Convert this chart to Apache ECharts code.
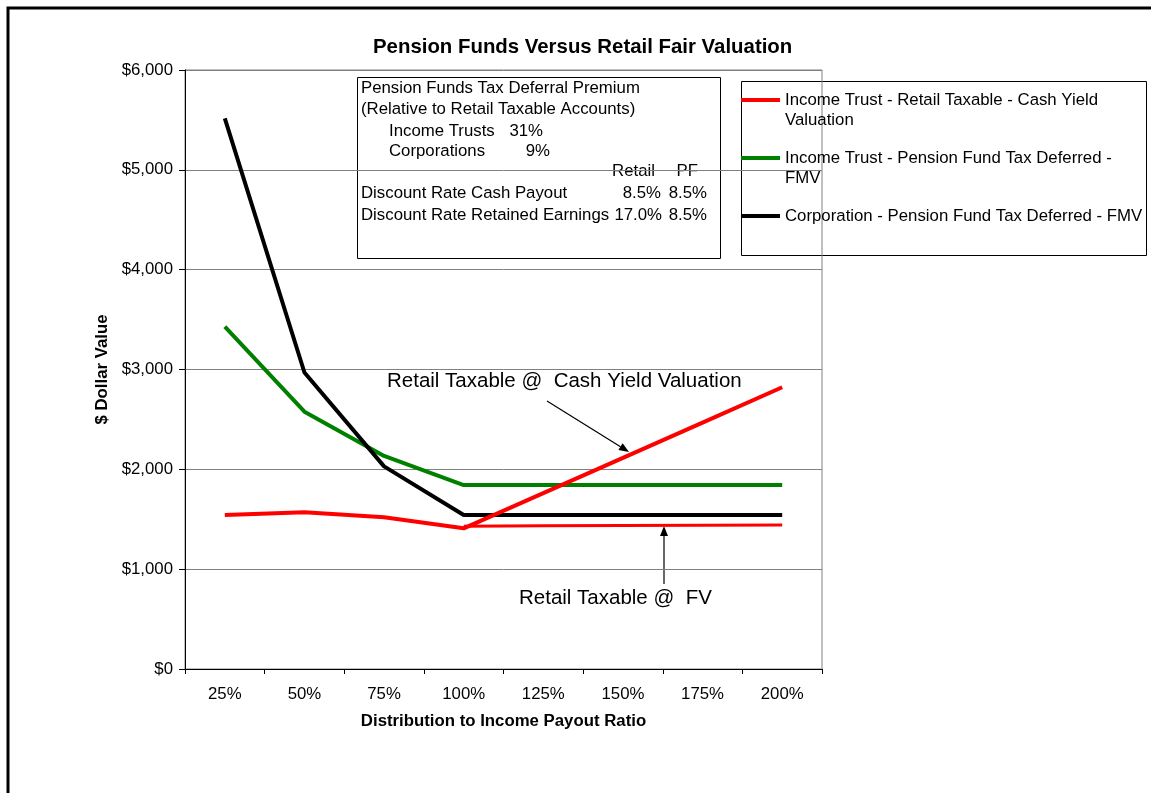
<!DOCTYPE html>
<html>
<head>
<meta charset="utf-8">
<title>Pension Funds Versus Retail Fair Valuation</title>
<script src="https://cdn.jsdelivr.net/npm/echarts@6/dist/echarts.min.js"></script>
<style>
  html, body { margin: 0; padding: 0; background: #fff; }
  #chart { width: 1151px; height: 793px; }
</style>
</head>
<body>
<div id="chart"></div>
<script>
// payout ratio categories on the x axis
var payoutRatios = ['25%', '50%', '75%', '100%', '125%', '150%', '175%', '200%'];

// dollar values
var trustRetailCash = [1543, 1570, 1520, 1409, 1762, 2115, 2468, 2822];
var trustRetailFV = [null, null, null, 1430, 1436, 1438, 1440, 1442];
var trustPensionFMV = [3430, 2578, 2134, 1843, 1843, 1843, 1843, 1843];
var corpPensionFMV = [5515, 2970, 2030, 1543, 1543, 1543, 1543, 1543];

var seriesNames = [
  'Income Trust - Retail Taxable - Cash Yield Valuation',
  'Income Trust - Pension Fund Tax Deferred - FMV',
  'Corporation - Pension Fund Tax Deferred - FMV'
];
// legend text wrapped like the original (leading blank line keeps the icon on line one)
var legendLines = {};
legendLines[seriesNames[0]] = ['', 'Income Trust - Retail Taxable - Cash Yield', 'Valuation'];
legendLines[seriesNames[1]] = ['', 'Income Trust - Pension Fund Tax Deferred -', 'FMV'];
legendLines[seriesNames[2]] = ['', 'Corporation - Pension Fund Tax Deferred - FMV', ''];

// text in the note box: [text, x, y, align]
var noteLines = [
  ['Pension Funds Tax Deferral Premium', 361, 88, 'left'],
  ['(Relative to Retail Taxable Accounts)', 361, 109.5, 'left'],
  ['Income Trusts', 389, 131, 'left'],
  ['31%', 543, 131, 'right'],
  ['Corporations', 389, 151, 'left'],
  ['9%', 550, 151, 'right'],
  ['Retail', 655, 171, 'right'],
  ['PF', 698, 171, 'right'],
  ['Discount Rate Cash Payout', 361, 193, 'left'],
  ['8.5%', 661, 193, 'right'],
  ['8.5%', 707, 193, 'right'],
  ['Discount Rate Retained Earnings', 361, 215, 'left'],
  ['17.0%', 662, 215, 'right'],
  ['8.5%', 707, 215, 'right']
];

(function () {
  var font = '"Liberation Sans", Arial, Helvetica, sans-serif';
  var fs = 16.8;

  function money(v) {
    return '$' + v.toString().replace(/\B(?=(\d{3})+(?!\d))/g, ',');
  }

  function textEl(t, x, y, align, size) {
    return {
      type: 'text',
      silent: true,
      style: {
        text: t, x: x, y: y,
        align: align || 'left',
        verticalAlign: 'middle',
        fontFamily: font,
        fontSize: size || fs,
        fill: '#000'
      }
    };
  }

  function arrow(x1, y1, x2, y2) {
    var ang = Math.atan2(y2 - y1, x2 - x1);
    var len = 10, half = 4;
    var bx = x2 - len * Math.cos(ang), by = y2 - len * Math.sin(ang);
    var px = -Math.sin(ang) * half, py = Math.cos(ang) * half;
    return [
      { type: 'line', silent: true, shape: { x1: x1, y1: y1, x2: bx, y2: by }, style: { stroke: '#000', lineWidth: 1.2 } },
      { type: 'polygon', silent: true, shape: { points: [[x2, y2], [bx + px, by + py], [bx - px, by - py]] }, style: { fill: '#000' } }
    ];
  }

  var graphics = [
    // chart frame (only left and top edges fall inside the window)
    { type: 'rect', silent: true, z: -10, shape: { x: 8, y: 8, width: 1400, height: 1000 }, style: { fill: null, stroke: '#000', lineWidth: 3 } },
    // note box
    { type: 'rect', silent: true, shape: { x: 357.5, y: 77.5, width: 363, height: 181 }, style: { fill: null, stroke: '#000', lineWidth: 1 } },
    // legend box
    { type: 'rect', silent: true, shape: { x: 741.5, y: 81.5, width: 405, height: 174 }, style: { fill: '#fff', stroke: '#000', lineWidth: 1 }, z: -1 },
    textEl('Retail Taxable @  Cash Yield Valuation', 387, 381, 'left', 20.5),
    textEl('Retail Taxable @  FV', 519, 598, 'left', 20.5)
  ];
  noteLines.forEach(function (n) { graphics.push(textEl(n[0], n[1], n[2], n[3])); });
  graphics = graphics.concat(arrow(547, 401, 629, 452), arrow(664, 584, 664, 526));

  var chart = echarts.init(document.getElementById('chart'), null, { renderer: 'canvas' });
  chart.setOption({
    animation: false,
    backgroundColor: '#fff',
    textStyle: { fontFamily: font, color: '#000' },
    title: {
      text: 'Pension Funds Versus Retail Fair Valuation',
      left: 373,
      top: 37,
      padding: 0,
      textStyle: { fontFamily: font, fontSize: 20.4, fontWeight: 'bold', color: '#000' }
    },
    grid: {
      left: 185, right: 329, top: 70, bottom: 124,
      show: true, borderColor: '#808080', borderWidth: 1, backgroundColor: 'transparent'
    },
    legend: {
      data: seriesNames,
      orient: 'vertical',
      left: 741,
      top: 70,
      padding: 0,
      itemGap: -2,
      itemWidth: 39,
      itemHeight: 4,
      icon: 'rect',
      selectedMode: false,
      formatter: function (name) { return legendLines[name].join('\n'); },
      textStyle: { fontFamily: font, fontSize: fs, lineHeight: 20, color: '#000' }
    },
    xAxis: {
      type: 'category',
      data: payoutRatios,
      boundaryGap: true,
      name: 'Distribution to Income Payout Ratio',
      nameLocation: 'middle',
      nameGap: 44,
      nameTextStyle: { fontFamily: font, fontSize: fs, fontWeight: 'bold', color: '#000' },
      axisLine: { lineStyle: { color: '#000', width: 1 } },
      axisTick: { show: true, length: 5, lineStyle: { color: '#000' } },
      axisLabel: { margin: 17, fontFamily: font, fontSize: fs, color: '#000' },
      splitLine: { show: false }
    },
    yAxis: {
      type: 'value',
      min: 0,
      max: 6000,
      interval: 1000,
      name: '$ Dollar Value',
      nameLocation: 'middle',
      nameGap: 74,
      nameTextStyle: { fontFamily: font, fontSize: fs, fontWeight: 'bold', color: '#000' },
      axisLine: { show: true, lineStyle: { color: '#000', width: 1 } },
      axisTick: { show: true, length: 6, lineStyle: { color: '#000' } },
      axisLabel: { margin: 12, fontFamily: font, fontSize: fs, color: '#000', formatter: money },
      splitLine: { show: true, lineStyle: { color: '#808080', width: 1 } }
    },
    series: [
      {
        name: seriesNames[1], type: 'line', data: trustPensionFMV, symbol: 'none',
        itemStyle: { color: '#008000' }, lineStyle: { color: '#008000', width: 4 }
      },
      {
        name: seriesNames[2], type: 'line', data: corpPensionFMV, symbol: 'none',
        itemStyle: { color: '#000000' }, lineStyle: { color: '#000000', width: 4 }
      },
      {
        name: 'Income Trust - Retail Taxable - FV', type: 'line', data: trustRetailFV, symbol: 'none',
        itemStyle: { color: '#ff0000' }, lineStyle: { color: '#ff0000', width: 3 }
      },
      {
        name: seriesNames[0], type: 'line', data: trustRetailCash, symbol: 'none',
        itemStyle: { color: '#ff0000' }, lineStyle: { color: '#ff0000', width: 4 }
      }
    ],
    graphic: graphics
  });
})();
</script>
</body>
</html>
